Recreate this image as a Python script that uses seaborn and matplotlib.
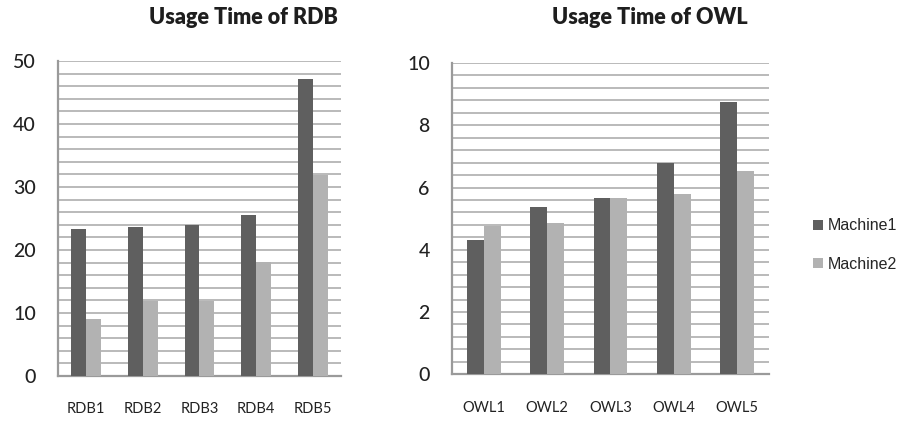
import matplotlib
matplotlib.use("Agg")
import matplotlib.pyplot as plt
from matplotlib.patches import Patch
from matplotlib.ticker import MultipleLocator
import pandas as pd
import seaborn as sns

# Usage times per dataset, two machines
rdb_labels = ["RDB1", "RDB2", "RDB3", "RDB4", "RDB5"]
rdb_machine1 = [23.3, 23.7, 23.9, 25.5, 47.2]
rdb_machine2 = [9.1, 11.9, 11.9, 18.1, 31.9]

owl_labels = ["OWL1", "OWL2", "OWL3", "OWL4", "OWL5"]
owl_machine1 = [4.31, 5.36, 5.66, 6.78, 8.76]
owl_machine2 = [4.76, 4.85, 5.66, 5.78, 6.53]

series_names = ["Machine1", "Machine2"]
colors = ["#5f5f5f", "#b2b2b2"]


def long_frame(labels, m1, m2):
    rows = []
    for name, vals in zip(series_names, [m1, m2]):
        for lab, v in zip(labels, vals):
            rows.append({"dataset": lab, "machine": name, "time": v})
    return pd.DataFrame(rows)


sns.set_theme(style="white")
plt.rcParams["font.family"] = ["Lato", "DejaVu Sans"]

W, H = 904, 421
fig = plt.figure(figsize=(W / 100, H / 100), dpi=100)


def px_axes(x0, y0, x1, y1):
    return fig.add_axes([x0 / W, 1 - y1 / H, (x1 - x0) / W, (y1 - y0) / H])


ax1 = px_axes(58, 61, 341, 376)
ax2 = px_axes(452, 63, 769, 374.3)

panels = [
    (ax1, long_frame(rdb_labels, rdb_machine1, rdb_machine2), 50, 10, 2),
    (ax2, long_frame(owl_labels, owl_machine1, owl_machine2), 10, 2, 0.4),
]

for ax, df, ymax, major, minor in panels:
    sns.barplot(data=df, x="dataset", y="time", hue="machine",
                palette=colors, width=0.53, gap=0, saturation=1,
                edgecolor="none", linewidth=0, legend=False, ax=ax, zorder=3)
    ax.set_ylim(0, ymax)
    ax.set_xlim(-0.5, 4.5)
    ax.yaxis.set_major_locator(MultipleLocator(major))
    ax.yaxis.set_minor_locator(MultipleLocator(minor))
    ax.grid(axis="y", which="both", color="#b4b4b4", linewidth=1.3, zorder=0)
    ax.set_axisbelow(True)
    ax.set_xlabel("")
    ax.set_ylabel("")
    for side in ["top", "right"]:
        ax.spines[side].set_visible(False)
    for side in ["left", "bottom"]:
        ax.spines[side].set_color("#9a9a9a")
        ax.spines[side].set_linewidth(1.6)
    ax.tick_params(axis="y", which="both", length=0, pad=16, labelsize=14,
                   labelcolor="#222222")
    ax.tick_params(axis="x", length=0, pad=19, labelsize=10.5,
                   labelcolor="#222222")
    for lab in ax.get_yticklabels():
        lab.set_fontweight("medium")

fig.text(243 / W, 1 - 17 / H, "Usage Time of RDB", ha="center", va="center",
         fontsize=15.5, fontweight="heavy", color="#1e1e1e")
fig.text(650 / W, 1 - 17 / H, "Usage Time of OWL", ha="center", va="center",
         fontsize=15.5, fontweight="heavy", color="#1e1e1e")

handles = [Patch(facecolor=c, edgecolor="none", label=n)
           for c, n in zip(colors, series_names)]
fig.legend(handles=handles, loc="upper left",
           bbox_to_anchor=(799 / W, 1 - 204 / H), frameon=False,
           handlelength=0.6, handleheight=0.6, handletextpad=0.3,
           labelspacing=1.45, prop={"family": ["Liberation Sans"], "size": 11.5})

fig.savefig("out.png", dpi=100)
